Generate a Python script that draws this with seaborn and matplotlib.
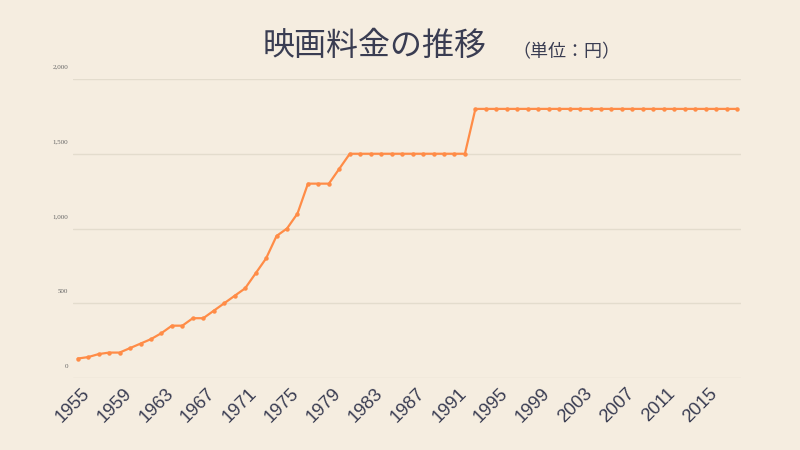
import matplotlib
matplotlib.use("Agg")
import matplotlib.pyplot as plt
import matplotlib.transforms as mtrans
import seaborn as sns
import pandas as pd

years = list(range(1955, 2019))
prices = [130, 140, 160, 170, 170, 200, 230, 260, 300, 350,
          350, 400, 400, 450, 500, 550, 600, 700, 800, 950,
          1000, 1100, 1300, 1300, 1300, 1400] + [1500] * 12 + [1800] * 26
tick_years = list(range(1955, 2016, 4))
y_ticks = [0, 500, 1000, 1500, 2000]
y_labels = ["0", "500", "1,000", "1,500", "2,000"]
title = "映画料金の推移"
subtitle = "（単位：円）"

BG = "#f5ede0"
LINE = "#ff8c47"
TEXT = "#3a3d52"

sns.set_theme(style="white")
plt.rcParams["font.family"] = ["Noto Sans CJK JP", "DejaVu Sans"]

df = pd.DataFrame({"year": years, "price": prices})

fig = plt.figure(figsize=(8, 4.5), dpi=100, facecolor=BG)
ax = fig.add_axes([73 / 800, 72 / 450, (741 - 73) / 800, (378 - 79) / 450])
ax.set_facecolor(BG)

sns.lineplot(data=df, x="year", y="price", ax=ax, color=LINE, linewidth=1.6,
             marker="o", markersize=3.2, markeredgewidth=0, clip_on=False)

ax.set_xlim(1955 - 0.45, 2018 + 0.38)
ax.set_ylim(0, 2000)
for s in ax.spines.values():
    s.set_visible(False)

ax.set_yticks(y_ticks)
ax.set_yticklabels([])
ax.tick_params(axis="y", length=0)
ax.yaxis.grid(True, color="#e3dccd", linewidth=1)
ax.xaxis.grid(False)
ax.set_axisbelow(True)

trans = mtrans.blended_transform_factory(ax.transAxes, ax.transData)
for v, lab in zip(y_ticks, y_labels):
    ax.text(0, v, lab, transform=trans + mtrans.ScaledTranslation(-5 / 100, 12 / 100, fig.dpi_scale_trans),
            ha="right", va="center", fontsize=5, color="#666666",
            family=["Liberation Serif", "DejaVu Serif"])

ax.set_xticks(tick_years)
ax.set_xticklabels([str(y) for y in tick_years], rotation=45, ha="center",
                   fontsize=13.2, color=TEXT, family=["Liberation Sans", "DejaVu Sans"])
ax.tick_params(axis="x", length=0, pad=5)
off = mtrans.ScaledTranslation(-5 / 100, 0, fig.dpi_scale_trans)
for lbl in ax.get_xticklabels():
    lbl.set_transform(lbl.get_transform() + off)

ax.set_xlabel("")
ax.set_ylabel("")

fig.text(375 / 800, 1 - 46 / 450, title, ha="center", va="center",
         fontsize=23, color=TEXT, family=["Noto Sans CJK JP", "DejaVu Sans"])
fig.text(512 / 800, 1 - 52 / 450, subtitle, ha="left", va="center",
         fontsize=13, color=TEXT, family=["Noto Sans CJK JP", "DejaVu Sans"])

fig.savefig("out.png", dpi=100, facecolor=BG)
